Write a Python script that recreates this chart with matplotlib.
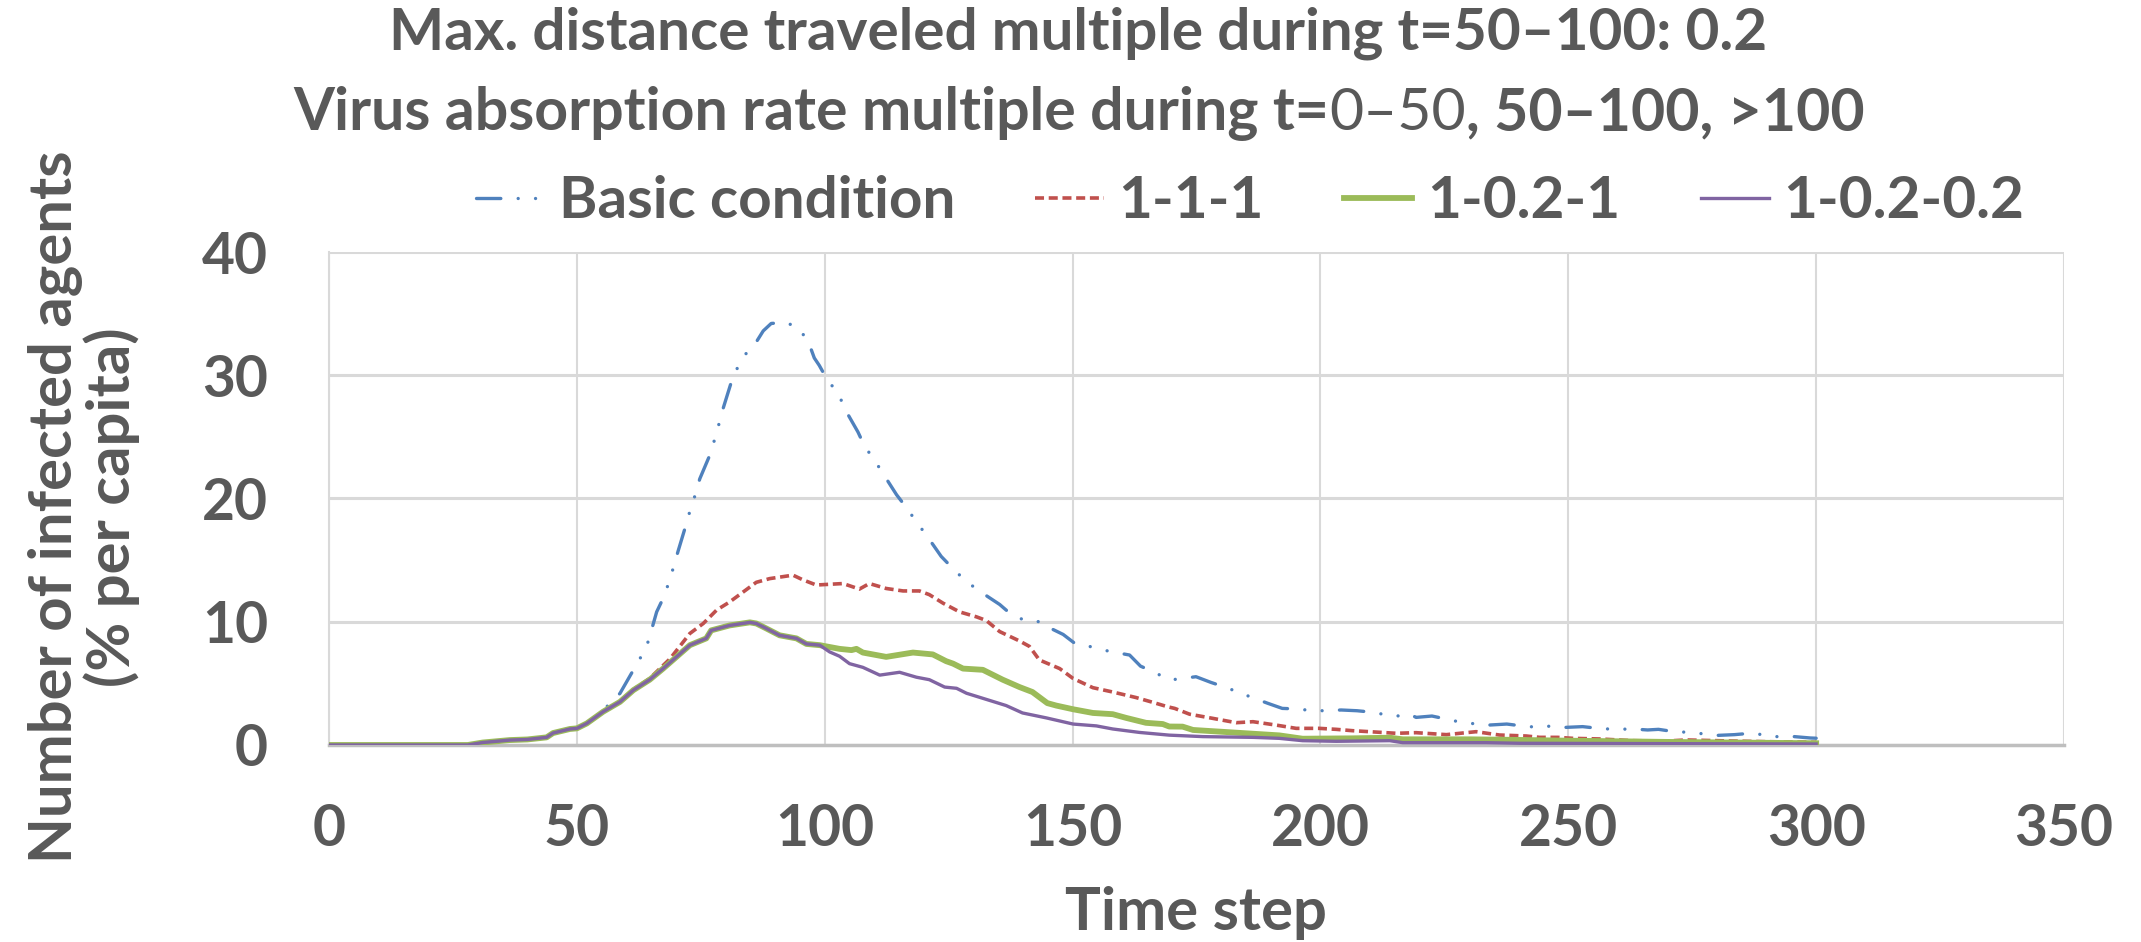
import matplotlib
matplotlib.use("Agg")
import matplotlib.pyplot as plt

plt.rcParams['font.family'] = ['Lato', 'DejaVu Sans']
plt.rcParams['font.weight'] = 'bold'

TXT = '#595959'

# ---- data ----
t_common = [0, 28, 31, 36.5, 40, 43.9, 45.2, 48.6, 50, 52, 55.3]
v_common = [0, 0, 0.2, 0.4, 0.45, 0.62, 0.97, 1.3, 1.35, 1.75, 2.7]

t_basic = [56.3, 58.7, 61.4, 63, 64.4, 66.1, 67.4, 68.4, 69.4, 70.4, 71.9, 72.8, 73.8, 74.8,
           76.8, 77.8, 78.7, 79.5, 81.2, 82.5, 84.2, 86.2, 87.6, 89.2, 92.1, 94.9, 96.9, 97.9,
           98.9, 100.7, 102.7, 104, 106.7, 108.1, 109.9, 111.8, 114.5, 116.6, 118.5, 120.5,
           123.5, 125.9, 128.2, 130.9, 135.3, 137.6, 140.7, 143.7, 145.4, 148.1, 150.6, 153.4,
           157.4, 161.5, 163.7, 166.5, 169.6, 174.9, 177.9, 181.1, 184, 189.4, 192.3, 195.5,
           198.8, 204.2, 207.4, 210.7, 214, 216.6, 218, 219.3, 222.5, 225.7, 228.7, 234.1,
           237.6, 240.8, 244, 246.5, 249.5, 252.9, 256.1, 259.3, 263, 266, 268.2, 271.4, 274.4,
           280.1, 283.5, 286.7, 289.9, 291.2, 295.6, 298.8, 300]
v_basic = [3.24, 4.19, 6.08, 7.2, 8.4, 10.8, 11.9, 13.0, 14.3, 15.7, 17.7, 18.97, 20.2, 21.6,
           23.5, 24.8, 26.1, 27.3, 29.5, 30.7, 31.8, 32.7, 33.6, 34.2, 34.3, 33.8, 32.5, 31.4,
           30.8, 29.5, 28.6, 27.3, 25.4, 24.2, 23.2, 22.0, 20.3, 19.2, 18.1, 17.03,
           15.3, 14.3, 13.4, 12.57, 11.4, 10.6, 10.05, 10.0, 9.5, 8.97, 8.2, 8.0,
           7.6, 7.3, 6.4, 5.9, 5.27, 5.54, 5.08, 4.65, 4.19, 3.38, 2.97, 2.92,
           2.76, 2.84, 2.78, 2.65, 2.38, 2.35, 2.5, 2.24, 2.35, 2.08, 1.81, 1.62,
           1.7, 1.54, 1.43, 1.54, 1.43, 1.49, 1.35, 1.27, 1.3, 1.22, 1.27, 1.08, 1.03,
           0.78, 0.84, 0.95, 0.81, 0.68, 0.68, 0.57, 0.55]

t_111 = [58.7, 61.4, 64.7, 68.8, 72.8, 75.5, 78.2, 80.8, 83.5, 86.2, 88.9, 93.6, 95.6, 98.3,
         103.7, 107, 109, 112.4, 115.8, 119.1, 121.1, 123.9, 127.2, 130.6, 132.6, 135.3, 139.3,
         141.3, 143.3, 147.4, 150.1, 154.1, 158.1, 162.8, 166.2, 169.2, 170.6, 173.6, 178.3,
         183, 186.4, 191, 195.1, 199.8, 203.2, 206.5, 209.9, 215.3, 219.3, 225.4, 231.4,
         236.1, 241.5, 244.2, 247.9, 250.9, 256.3, 263, 269.7, 273.8, 283.2, 289.9, 300]
v_111 = [3.5, 4.5, 5.4, 7.0, 9.05, 9.86, 10.95, 11.6, 12.4, 13.2, 13.5, 13.78, 13.4, 12.98,
         13.1, 12.65, 13.1, 12.7, 12.5, 12.5, 12.2, 11.5, 10.8, 10.4, 10.1, 9.2, 8.44,
         8.0, 6.9, 6.2, 5.4, 4.65, 4.3, 3.85, 3.46, 3.1, 2.97, 2.5, 2.16,
         1.81, 1.89, 1.62, 1.35, 1.35, 1.27, 1.16, 1.08, 0.95, 1.0, 0.84, 1.08,
         0.81, 0.73, 0.62, 0.62, 0.54, 0.49, 0.35, 0.32, 0.41, 0.32, 0.27, 0.22]

t_shared = [58.7, 61.4, 64.7, 67.4, 70.1, 72.8, 76.1, 77.1, 80.8, 84.9, 86.2, 88, 90.9, 94.3,
            96.3, 99]
v_shared = [3.5, 4.45, 5.3, 6.2, 7.15, 8.1, 8.65, 9.3, 9.7, 9.95, 9.86, 9.5, 8.9, 8.65,
            8.2, 8.1]

t_1021 = [103, 105.4, 106.4, 107.7, 112.4, 117.8, 121.8, 124.5, 125.9, 127.9, 131.9, 135.9,
          139.3, 141.9, 144.9, 146.7, 150.1, 154.1, 158.1, 160.8, 164.8, 168.2, 169.5, 172.2,
          174.3, 183, 191.7, 196.4, 206.5, 214, 216.6, 230.1, 240.2, 250, 270, 300]
v_1021 = [7.8, 7.7, 7.8, 7.5, 7.15, 7.5, 7.35, 6.8, 6.6, 6.2, 6.1, 5.3,
          4.7, 4.3, 3.4, 3.2, 2.9, 2.6, 2.5, 2.2, 1.8, 1.7, 1.5, 1.49,
          1.22, 1.0, 0.78, 0.51, 0.54, 0.59, 0.46, 0.46, 0.41, 0.35, 0.25, 0.14]

t_10202 = [101, 103, 105, 107.7, 111.1, 115.1, 118.5, 121.1, 124.2, 126.6, 128.6, 132.6,
           136.6, 139.9, 144.7, 150.1, 154.8, 158.1, 163.5, 169.5, 176.3, 186.4, 191.7, 196.4,
           203.2, 214, 216.6, 233.4, 240.2, 260, 280, 300]
v_10202 = [7.55, 7.2, 6.6, 6.3, 5.67, 5.9, 5.5, 5.3, 4.7, 4.6, 4.2, 3.7,
           3.2, 2.6, 2.2, 1.7, 1.55, 1.3, 1.02, 0.8, 0.68, 0.62, 0.54, 0.35,
           0.3, 0.35, 0.19, 0.19, 0.14, 0.12, 0.1, 0.08]

labels = ['Basic condition', '1-1-1', '1-0.2-1', '1-0.2-0.2']
colors = ['#4F81BD', '#C0504D', '#9BBB59', '#8064A2']
x_ticks = [0, 50, 100, 150, 200, 250, 300, 350]
y_ticks = [0, 10, 20, 30, 40]

title1 = 'Max. distance traveled multiple during t=50\u2013100: 0.2'
title2_parts = [('Virus absorption rate multiple during t=', 'bold'),
                ('0\u201350', 'normal'),
                (', 50\u2013100, >100', 'bold')]

# ---- figure ----
W, H = 2141, 942
fig = plt.figure(figsize=(W / 100, H / 100), dpi=100)
ax = fig.add_axes([329 / W, 1 - 745 / H, (2064 - 329) / W, (745 - 252) / H])

tb = t_common + t_basic
vb = v_common + v_basic
tr = t_common + t_111
vr = v_common + v_111
tg = t_common + t_shared + t_1021
vg = v_common + v_shared + v_1021
tp = t_common + t_shared + t_10202
vp = v_common + v_shared + v_10202

l1, = ax.plot(tb, vb, color=colors[0], lw=2.4, dashes=(7.3, 5.2, 0.01, 5.2, 0.01, 5.2),
              dash_capstyle='round', zorder=3)
l2, = ax.plot(tr, vr, color=colors[1], lw=2.6, dashes=(2.5, 1.3), zorder=4)
l3, = ax.plot(tg, vg, color=colors[2], lw=4.2, solid_joinstyle='round', zorder=5)
l4, = ax.plot(tp, vp, color=colors[3], lw=2.4, solid_joinstyle='round', zorder=6)

ax.set_xlim(0, 350)
ax.set_ylim(0, 40)
ax.set_xticks(x_ticks)
ax.set_yticks(y_ticks)
ax.grid(True, axis='x', color='#D9D9D9', lw=1.5, zorder=0)
ax.grid(True, axis='y', color='#D9D9D9', lw=2.2, zorder=0)
ax.set_axisbelow(True)
for s in ['top', 'right']:
    ax.spines[s].set_visible(False)
ax.spines['left'].set_color('#D9D9D9')
ax.spines['left'].set_linewidth(1.5)
ax.spines['bottom'].set_color('#BFBFBF')
ax.spines['bottom'].set_linewidth(2.5)
ax.tick_params(axis='both', length=0, labelsize=41, labelcolor=TXT)
ax.tick_params(axis='y', pad=44)
ax.tick_params(axis='x', pad=42)
for lab in ax.get_xticklabels() + ax.get_yticklabels():
    lab.set_fontweight('bold')

# titles
fig.text(1078 / W, 1 - 50 / H, title1, ha='center', va='baseline',
         fontsize=42, fontweight='bold', color=TXT)

fig.canvas.draw()
r = fig.canvas.get_renderer()
pieces = []
for s, wgt in title2_parts:
    tt = fig.text(0, 1 - 130 / H, s, ha='left', va='baseline', fontsize=42.5,
                  fontweight=wgt, color=TXT)
    pieces.append(tt)
widths = [p.get_window_extent(renderer=r).width for p in pieces]
x0 = 1079 - sum(widths) / 2
for p, w in zip(pieces, widths):
    p.set_x(x0 / W)
    x0 += w

# legend
fig.legend([l1, l2, l3, l4], labels, ncol=4, loc='center',
           bbox_to_anchor=(1250 / W, 1 - 202 / H), frameon=False,
           prop={'size': 42, 'weight': 'bold'}, labelcolor=TXT,
           handlelength=1.17, handletextpad=0.25, columnspacing=1.38)

# axis titles
fig.text(84 / W, 1 - 507 / H, 'Number of infected agents\n(% per capita)', rotation=90,
         ha='center', va='center', multialignment='center', fontsize=43,
         fontweight='bold', color=TXT, linespacing=1.0)
fig.text(1196 / W, 1 - 930 / H, 'Time step', ha='center', va='baseline', fontsize=43,
         fontweight='bold', color=TXT)

fig.savefig('out.png', dpi=100)
